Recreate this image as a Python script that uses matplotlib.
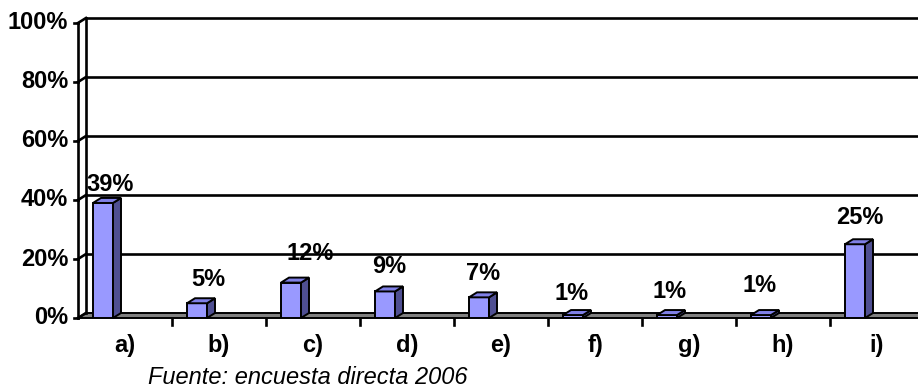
import matplotlib.pyplot as plt
from matplotlib.patches import Polygon

plt.rcParams['font.family'] = ['Liberation Sans', 'DejaVu Sans']

categories = ['a)', 'b)', 'c)', 'd)', 'e)', 'f)', 'g)', 'h)', 'i)']
percent = [39, 5, 12, 9, 7, 1, 1, 1, 25]
y_ticks = [0, 20, 40, 60, 80, 100]
source = 'Fuente: encuesta directa 2006'

# value labels were hand-placed in the original, nudges in pixels
label_dx = [7, 11, 19, 4, 4, -1, 3, -1, 5]
label_lift = [7, 12, 18, 13, 12, 10, 12, 18, 15]

W, H = 918, 389
fig = plt.figure(figsize=(W / 100, H / 100), dpi=100)
ax = fig.add_axes([78 / W, 71 / H, 840 / W, 295 / H])
xmax = 840 / 94
ax.set_xlim(0, xmax)
ax.set_ylim(0, 100)
ax.axis('off')

px = 1 / 94     # data units per pixel (x)
py = 100 / 295  # data units per pixel (y)
dx, dy = 8 * px, 5 * py

front_c = '#9999ff'
top_c = '#8080e6'
side_c = '#4f4f92'
lw = 1.9
fs = 17

# floor
floor = Polygon([(0, 0), (xmax + 1, 0), (xmax + 1, dy), (dx, dy)], closed=True,
                facecolor='#808080', edgecolor='black', lw=1.4, clip_on=False, zorder=1)
ax.add_patch(floor)

# back wall gridlines, left wall and ticks
for t in y_ticks:
    if t > 0:
        ax.plot([dx, xmax], [t + dy, t + dy], color='black', lw=lw, clip_on=False, zorder=1)
    ax.plot([0, dx], [t, t + dy], color='black', lw=lw, clip_on=False, zorder=1)
    ax.plot([-4 * px, 0], [t, t], color='black', lw=lw, clip_on=False, zorder=1)
    ax.text(-10 * px, t, f'{t}%', ha='right', va='center', fontsize=fs,
            fontweight='bold')
ax.plot([0, 0], [0, 100], color='black', lw=lw, clip_on=False, zorder=1)
ax.plot([dx, dx], [dy, 100 + dy], color='black', lw=lw, clip_on=False, zorder=1)

# category ticks under the floor
for k in range(1, len(categories)):
    ax.plot([k, k], [-1 * py, -7 * py], color='black', lw=lw, clip_on=False)

# bars with pseudo 3d faces
bw = 20 * px
xs = [i + 0.5 - 22 * px for i in range(len(categories))]
ax.bar(xs, percent, width=bw, color=front_c, edgecolor='black', lw=1.4, zorder=3)
for x, v, ldx, lift in zip(xs, percent, label_dx, label_lift):
    xl, xr = x - bw / 2, x + bw / 2
    side = Polygon([(xr, 0), (xr + dx, dy), (xr + dx, v + dy), (xr, v)], closed=True,
                   facecolor=side_c, edgecolor='black', lw=1.4, zorder=3, clip_on=False)
    top = Polygon([(xl, v), (xr, v), (xr + dx, v + dy), (xl + dx, v + dy)], closed=True,
                  facecolor=top_c, edgecolor='black', lw=1.4, zorder=3, clip_on=False)
    ax.add_patch(side)
    ax.add_patch(top)
    ax.text(x + ldx * px, v + dy + lift * py, f'{v}%', ha='center', va='baseline',
            fontsize=fs, fontweight='bold', zorder=4)

for i, cat in enumerate(categories):
    ax.text(i + 0.5, -34 * py, cat, ha='center', va='baseline', fontsize=fs,
            fontweight='bold')

ax.text((148 - 78) * px, -(384 - 318) * py, source, ha='left', va='baseline',
        fontsize=17, style='italic')

fig.savefig('out.png', dpi=100)
